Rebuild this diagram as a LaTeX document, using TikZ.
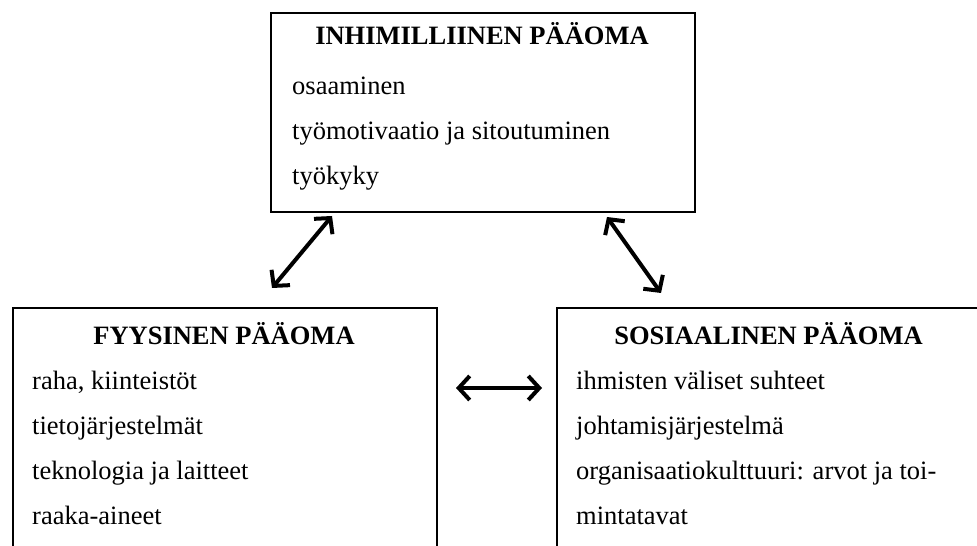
\documentclass[tikz,border=0pt]{standalone}
\usepackage{fontspec}
\setmainfont{Liberation Serif}
\usetikzlibrary{positioning}
\usetikzlibrary{arrows.meta}

\begin{document}
\begin{tikzpicture}[x=1pt,y=1pt,
 box/.style={draw,line width=2pt,anchor=north west,minimum width=424pt,inner sep=0pt},
 head/.style={font=\fontsize{26.5}{32}\selectfont\bfseries,anchor=base,inner sep=0pt},
 row/.style={font=\fontsize{26.5}{32}\selectfont,anchor=base west,inner sep=0pt},
 link/.style={line width=4pt,{Straight Barb[length=11pt,width=24pt]}-{Straight Barb[length=11pt,width=24pt]}}]
 \useasboundingbox (0,0) rectangle (977,546);
 \clip (0,0) rectangle (977,546);
 \node[box,minimum height=199pt] (inhim) at (270,534) {};
 \node[box,minimum height=259pt] (fyys) at (12,239) {};
 \node[box,minimum width=425pt,minimum height=259pt] (sos) at (556,239) {};
 \node[head] (inhim-t) at (482,501) {INHIMILLIINEN PÄÄOMA};
 \node[head] (fyys-t) at (224,201) {FYYSINEN PÄÄOMA};
 \node[head] (sos-t) at (768.5,201) {SOSIAALINEN PÄÄOMA};
 \foreach \t [count=\i] in {osaaminen, työmotivaatio ja sitoutuminen, työkyky}
  \node[row] (inhim-\i) at (292,{496-45*\i}) {\t};
 \foreach \t [count=\i] in {{raha, kiinteistöt}, tietojärjestelmät, teknologia ja laitteet, raaka-aineet}
  \node[row] (fyys-\i) at (32,{201-45*\i}) {\t};
 \foreach \t [count=\i] in {ihmisten väliset suhteet, johtamisjärjestelmä, organisaatiokulttuuri: arvot ja toi-, mintatavat}
  \node[row] (sos-\i) at (576,{201-45*\i}) {\t};
 \draw[link] ([xshift=62pt,yshift=-3pt]inhim.south west) -- ([xshift=260pt,yshift=19pt]fyys.north west);
 \draw[link] ([xshift=337pt,yshift=-4pt]inhim.south west) -- ([xshift=105pt,yshift=14pt]sos.north west);
 \draw[link] ([xshift=18pt,yshift=-81pt]fyys.north east) -- ([xshift=-14pt,yshift=-81pt]sos.north west);
\end{tikzpicture}
\end{document}
